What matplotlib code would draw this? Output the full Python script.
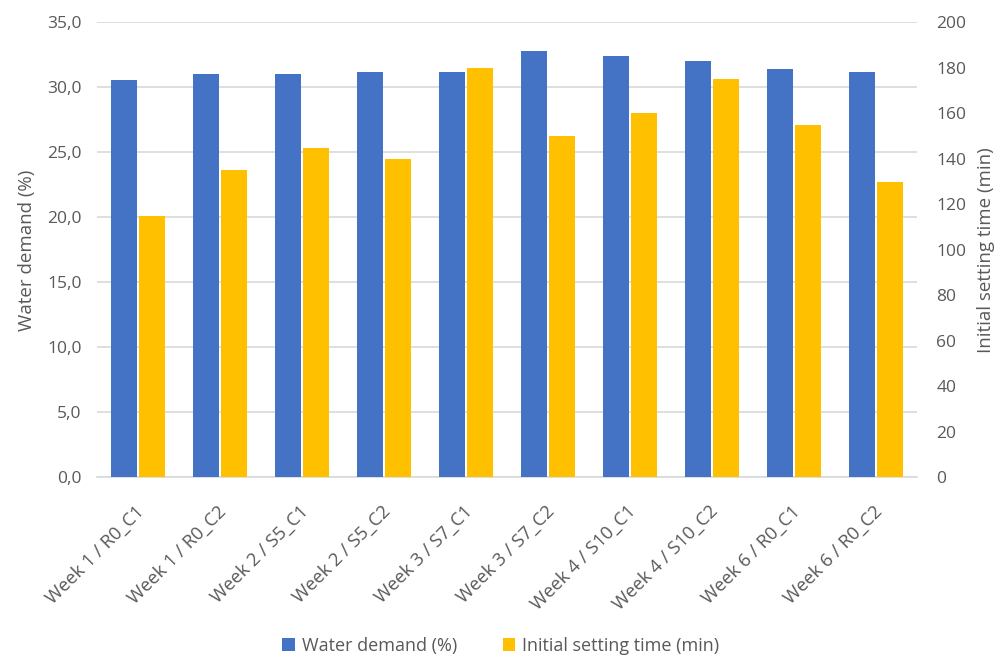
import matplotlib
matplotlib.use("Agg")
import matplotlib.pyplot as plt
import matplotlib.transforms as mtransforms
import numpy as np
from matplotlib.ticker import FuncFormatter

categories = ["Week 1 / R0_C1", "Week 1 / R0_C2", "Week 2 / S5_C1", "Week 2 / S5_C2",
              "Week 3 / S7_C1", "Week 3 / S7_C2", "Week 4 / S10_C1", "Week 4 / S10_C2",
              "Week 6 / R0_C1", "Week 6 / R0_C2"]
water_demand = [30.6, 31.0, 31.0, 31.2, 31.2, 32.8, 32.4, 32.0, 31.4, 31.2]
setting_time = [115, 135, 145, 140, 180, 150, 160, 175, 155, 130]

left_ticks = [0, 5, 10, 15, 20, 25, 30, 35]
right_ticks = [0, 20, 40, 60, 80, 100, 120, 140, 160, 180, 200]

BLUE = "#4472C4"
GOLD = "#FFC000"
TEXT = "#595959"
GRID = "#D9D9D9"

plt.rcParams["font.family"] = ["Open Sans", "DejaVu Sans"]

fig = plt.figure(figsize=(10.02, 6.57), dpi=100)
ax = fig.add_axes([0.0968, 0.2735, 0.8183, 0.6923])
ax2 = ax.twinx()

x = np.arange(len(categories))
w = 0.317
off = 0.171
ax.bar(x - off, water_demand, width=w, color=BLUE, label="Water demand (%)", zorder=3)
ax2.bar(x + off, setting_time, width=w, color=GOLD, label="Initial setting time (min)", zorder=3)

ax.set_xlim(-0.5, len(categories) - 0.5)
ax.set_ylim(0, 35)
ax2.set_ylim(0, 200)
ax.set_yticks(left_ticks)
ax2.set_yticks(right_ticks)
ax.yaxis.set_major_formatter(FuncFormatter(lambda v, p: f"{v:.1f}".replace(".", ",")))

ax.yaxis.grid(True, color=GRID, linewidth=1.2, zorder=0)
ax.set_axisbelow(True)
for a in (ax, ax2):
    for s in a.spines.values():
        s.set_visible(False)
ax.spines["bottom"].set_visible(True)
ax.spines["bottom"].set_color(GRID)
ax.spines["bottom"].set_linewidth(1.2)

ax.tick_params(axis="both", length=0, colors=TEXT, labelsize=12.5)
ax2.tick_params(axis="y", length=0, colors=TEXT, labelsize=12.5, pad=14)
ax.tick_params(axis="y", pad=11)

ax.set_xticks(x)
ax.set_xticklabels(categories, rotation=45, ha="right", rotation_mode="anchor", fontsize=13.2)
ax.tick_params(axis="x", pad=18)
shift = mtransforms.ScaledTranslation(-3 / 100, 0, fig.dpi_scale_trans)
for lbl in ax.get_xticklabels():
    lbl.set_transform(lbl.get_transform() + shift)

ax.set_ylabel("Water demand (%)", color=TEXT, fontsize=13.5, labelpad=8)
ax2.set_ylabel("Initial setting time (min)", color=TEXT, fontsize=13.5, labelpad=8)

h1, l1 = ax.get_legend_handles_labels()
h2, l2 = ax2.get_legend_handles_labels()
fig.legend(h1 + h2, l1 + l2, loc="center", bbox_to_anchor=(0.5, 0.017), ncol=2,
           frameon=False, fontsize=13, labelcolor=TEXT, handlelength=0.7,
           handleheight=0.7, handletextpad=0.4, columnspacing=2.5)

fig.savefig("out.png", dpi=100, facecolor="white")
